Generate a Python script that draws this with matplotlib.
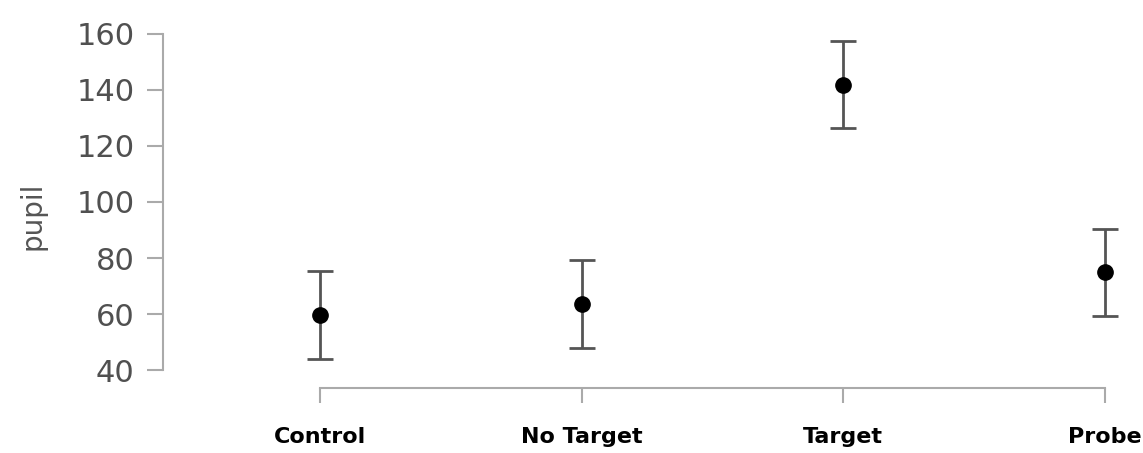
import matplotlib
matplotlib.use('Agg')
import matplotlib.pyplot as plt
import numpy as np

# condition means and error (half-width of bars)
conditions = ['Control', 'No Target', 'Target', 'Probe']
pupil_mean = [59.8, 63.6, 141.9, 74.9]
pupil_err = [15.7, 15.8, 15.6, 15.5]
y_ticks = [40, 60, 80, 100, 120, 140, 160]

fig = plt.figure(figsize=(11.43, 4.53), dpi=100)
ax = fig.add_axes([0.1426, 0.1435, 0.847, 0.794])

x = np.arange(len(conditions))
ax.errorbar(x, pupil_mean, yerr=pupil_err, fmt='o', color='black', markersize=11,
            ecolor='#555555', elinewidth=2, capsize=9.5, capthick=2, zorder=3)

ax.set_xlim(-0.6, 3.1)
ax.set_ylim(33.6, 162)
ax.set_yticks(y_ticks)
ax.set_xticks(x)
ax.set_xticklabels(conditions, fontsize=16, fontweight='bold', color='black')

for side in ['top', 'right']:
    ax.spines[side].set_visible(False)
for side in ['left', 'bottom']:
    ax.spines[side].set_color('#aaaaaa')
    ax.spines[side].set_linewidth(1.5)
ax.spines['left'].set_bounds(40, 160)
ax.spines['bottom'].set_bounds(0, 3)

ax.tick_params(axis='y', direction='out', length=11.5, width=1.5, color='#aaaaaa',
               labelsize=22, labelcolor='#505050', pad=9)
ax.tick_params(axis='x', direction='out', length=11, width=1.5, color='#aaaaaa', pad=17)

ax.set_ylabel('pupil', fontsize=20, color='#555555')
ax.yaxis.set_label_coords(-0.12, 0.48)

fig.savefig('out.png', dpi=100)
plt.close()
